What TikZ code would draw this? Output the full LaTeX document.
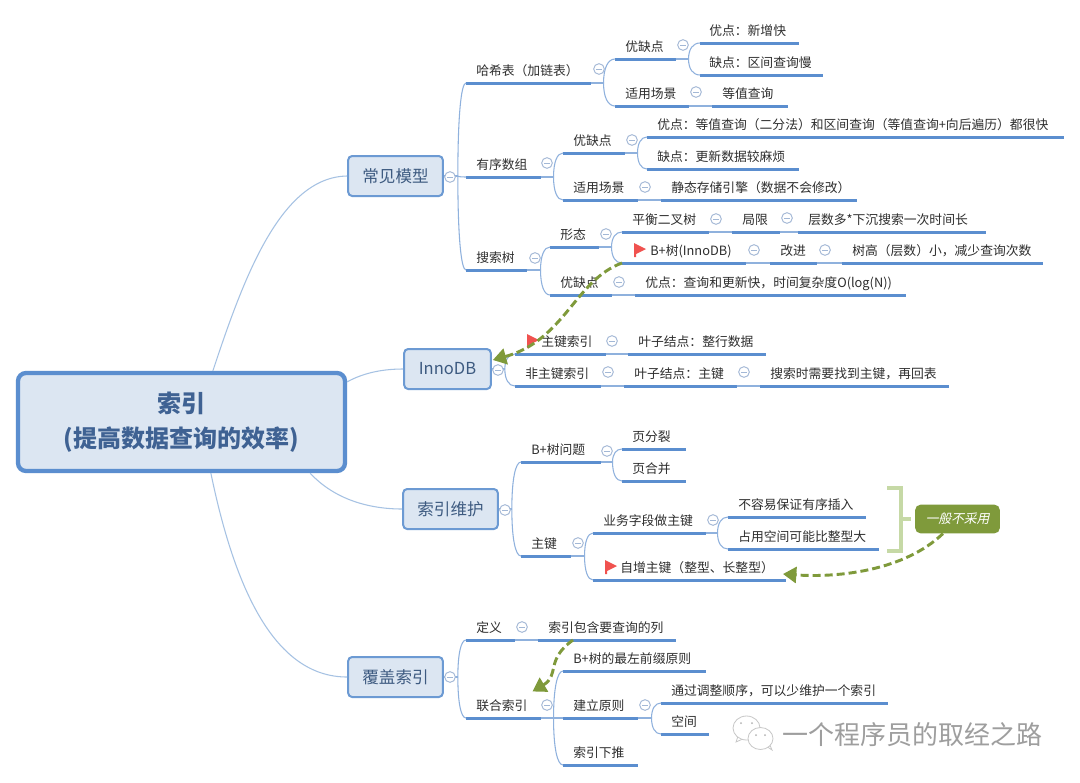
\documentclass[tikz,border=0pt]{standalone}
\usepackage{fontspec}
\setmainfont{Noto Sans CJK SC}
\newfontfamily\slantcjk[FakeSlant=0.22]{Noto Sans CJK SC}
\usetikzlibrary{calc,arrows.meta,shapes.geometric}
\definecolor{barblue}{HTML}{5B8ECF}
\definecolor{linkblue}{HTML}{8FB1DD}
\definecolor{rootlink}{HTML}{A6C2E3}
\definecolor{boxfill}{HTML}{DCE6F2}
\definecolor{boxline}{HTML}{6C9AD3}
\definecolor{colc}{HTML}{A3B8D6}
\definecolor{relgreen}{HTML}{7F9A3B}
\definecolor{brk}{HTML}{C6D9A6}
\definecolor{flagred}{HTML}{F0524F}
\definecolor{textc}{HTML}{2E2E2E}
\definecolor{headc}{HTML}{3D5A80}
\definecolor{rootc}{HTML}{3F6293}
\tikzset{
  topicnode/.style={anchor=south west,inner sep=0pt,minimum height=19.5pt,text height=11pt,text depth=2.2pt,text=textc,font=\fontsize{9.6pt}{12pt}\selectfont},
  bar/.style={draw=barblue,line width=2.25pt},
  link/.style={draw=linkblue,line width=.8pt},
  rootlinkstyle/.style={draw=rootlink,line width=.8pt},
  mainbox/.style={draw=boxline,fill=boxfill,line width=1.5pt,rounded corners=3pt,inner sep=0pt,text=headc,font=\fontsize{12.4pt}{15pt}\selectfont},
  rootbox/.style={draw=barblue,fill=boxfill,line width=3.2pt,rounded corners=6pt,inner sep=0pt,align=center,text=rootc,font=\fontsize{18pt}{26.5pt}\selectfont\bfseries},
  colnode/.style={circle,draw=colc,fill=white,line width=.7pt,minimum size=8pt,inner sep=0pt,
    path picture={\draw[colc,line width=.6pt] ([xshift=-2.2pt]path picture bounding box.center) -- ([xshift=2.2pt]path picture bounding box.center);}},
  rel/.style={draw=relgreen,line width=2.2pt,dash pattern=on 6pt off 3pt,-{Triangle[length=10pt,width=12pt,fill=relgreen]}},
  noteb/.style={fill=relgreen,rounded corners=4pt,inner sep=0pt,text=white,font=\fontsize{9.6pt}{12pt}\selectfont\slantcjk},
  brackets/.style={draw=brk,line width=3pt},
  bubble/.style={draw=black!22,fill=white,line width=.6pt},
}
% name, x1, x2, y, text; optional = left padding
\newcommand\topic[6][10]{%
  \node[topicnode] (#2) at (#3,#5) {\makebox[\dimexpr 0.75pt*(#4-#3)\relax][l]{\hspace*{\dimexpr 0.75pt*#1\relax}#6}};
  \draw[bar] (#2.south west) -- (#2.south east);}
\newcommand\fork[3]{%
  \draw[link] (#1) -- ++(#2,0) coordinate (j);
  \foreach \kid in {#3} \draw[link] (j) .. controls ($(j)!0.62!(j |- \kid.south west)$) and ($(\kid.south west)!0.62!(j |- \kid.south west)$) .. (\kid.south west);}
\newcommand\joinlink[2]{\draw[link] (#1.south east) -- (#2.south west);}
\newcommand\flagmark[1]{%
  \fill[flagred] ($(#1.south west)+(12,-20)$) -- ++(12,6) -- ++(-10,5) -- ++(0,3) -- ++(-2,0) -- cycle;}
\begin{document}
\begin{tikzpicture}[x=0.75pt,y=-0.75pt]
\useasboundingbox (0,0) rectangle (1080,782);
\fill[white] (0,0) rectangle (1080,782);
% root and main boxes
\node[rootbox,minimum width=245.25pt,minimum height=73.5pt] (root) at (181.5,422) {索引\\(提高数据查询的效率)};
\node[mainbox,minimum width=71pt,minimum height=30pt] (b1) at (395.5,176) {常见模型};
\node[mainbox,minimum width=65pt,minimum height=30pt] (b2) at (447.5,369) {InnoDB};
\node[mainbox,minimum width=71pt,minimum height=30pt] (b3) at (450.5,509) {索引维护};
\node[mainbox,minimum width=71pt,minimum height=30pt] (b4) at (395.5,677) {覆盖索引};
% root connectors
\draw[rootlinkstyle] ($(root.north west)+(197,0)$) .. controls (243,280) and (280,177) .. (b1.west);
\draw[rootlinkstyle] ($(root.north east)+(0,11)$) .. controls (365,372) and (385,369) .. (b2.west);
\draw[rootlinkstyle] ($(root.south east)+(-37,0)$) .. controls (335,500) and (370,509) .. (b3.west);
\draw[rootlinkstyle] ($(root.south west)+(195,0)$) .. controls (235,590) and (275,677) .. (b4.west);
% branch 1
\topic{h}{466}{590}{83}{哈希表（加链表）}
\topic{ha}{615}{675}{59}{优缺点}
\topic[9]{haa}{700}{798}{43}{优点：新增快}
\topic[9]{hab}{700}{822}{75}{缺点：区间查询慢}
\topic{hb}{615}{688}{106}{适用场景}
\topic{hba}{712}{787}{106}{等值查询}
\topic{o}{466}{540}{177}{有序数组}
\topic{oa}{563}{624}{153}{优缺点}
\topic{oaa}{647}{1063}{137}{优点：等值查询（二分法）和区间查询（等值查询+向后遍历）都很快}
\topic{oab}{647}{798}{169}{缺点：更新数据较麻烦}
\topic{ob}{563}{637}{200}{适用场景}
\topic{oba}{661}{856}{200}{静态存储引擎（数据不会修改）}
\topic{s}{466}{526}{270}{搜索树}
\topic{sa}{550}{598}{247}{形态}
\topic{saa}{622}{708}{232}{平衡二叉树}
\topic{saaa}{732}{779}{232}{局限}
\topic{saab}{798}{985}{232}{层数多*下沉搜索一次时间长}
\topic[28]{sab}{622}{745}{263}{B+树(InnoDB)}
\topic{saba}{770}{816}{263}{改进}
\topic{sabb}{842}{1042}{263}{树高（层数）小，减少查询次数}
\topic{sb}{550}{611}{295}{优缺点}
\topic{sba}{635}{905}{295}{优点：查询和更新快，时间复杂度O(log(N))}
\flagmark{sab}
\fork{b1.east}{14}{h,o,s}
\fork{h.south east}{13}{ha,hb}
\fork{ha.south east}{13}{haa,hab}
\fork{o.south east}{13}{oa,ob}
\fork{oa.south east}{13}{oaa,oab}
\fork{s.south east}{14}{sa,sb}
\fork{sa.south east}{13}{saa,sab}
\joinlink{hb}{hba}
\joinlink{ob}{oba}
\joinlink{saa}{saaa}
\joinlink{saaa}{saab}
\joinlink{sab}{saba}
\joinlink{saba}{sabb}
\joinlink{sb}{sba}
% branch 2
\topic[26]{pk}{515}{605}{354}{主键索引}
\topic{pka}{628}{765}{354}{叶子结点：整行数据}
\topic{npk}{515}{600}{386}{非主键索引}
\topic{npka}{624}{736}{386}{叶子结点：主键}
\topic{npkb}{760}{948}{386}{搜索时需要找到主键，再回表}
\flagmark{pk}
\fork{b2.east}{13}{pk,npk}
\joinlink{pk}{pka}
\joinlink{npk}{npka}
\joinlink{npka}{npkb}
% branch 3
\topic{bq}{521}{600}{462}{B+树问题}
\topic{bqa}{622}{685}{449}{页分裂}
\topic{bqb}{622}{685}{481}{页合并}
\topic{mk}{521}{570}{556}{主键}
\topic{mka}{593}{705}{533}{业务字段做主键}
\topic{mkaa}{728}{865}{517}{不容易保证有序插入}
\topic{mkab}{728}{878}{549}{占用空间可能比整型大}
\topic[27]{mkb}{593}{785}{580}{自增主键（整型、长整型）}
\flagmark{mkb}
\fork{b3.east}{13}{bq,mk}
\fork{bq.south east}{12}{bqa,bqb}
\fork{mk.south east}{14}{mka,mkb}
\fork{mka.south east}{12}{mkaa,mkab}
% note with bracket
\node[noteb,minimum width=63.5pt,minimum height=21.5pt] (note) at (957.5,519) {一般不采用};
\draw[brackets] (887,488) -- (901,488) -- (901,551) -- (887,551);
\draw[brackets] ($(note.west)+(-4,0)$) -- (901,519);
% branch 4
\topic{d}{466}{514}{640}{定义}
\topic{da}{538}{675}{640}{索引包含要查询的列}
\topic{lh}{466}{540}{718}{联合索引}
\topic{la}{563}{705}{671}{B+树的最左前缀原则}
\topic{lb}{563}{637}{718}{建立原则}
\topic{lba}{661}{887}{703}{通过调整顺序，可以少维护一个索引}
\topic{lbb}{661}{708}{734}{空间}
\topic{lc}{563}{637}{765}{索引下推}
\fork{b4.east}{14}{d,lh}
\fork{lh.south east}{13}{la,lb,lc}
\fork{lb.south east}{14}{lba,lbb}
\joinlink{d}{da}
% collapse marks
\foreach \px/\py [count=\i] in {450/177,599/69,683/45,696/92,547/163,632/140,645/187,535/258,606/234,716/219,787/218,754/250,825/250,619/282,498/370,612/341,608/372,744/372,505/510,607/451,578/543,713/520,450/677,522/627,547/705,645/705}
  \node[colnode] (col\i) at (\px,\py) {};
% relation arrows
\draw[rel] (sab.south west) .. controls (575,280) and (565,340) .. ($(b2.east)+(1,-9)$);
\draw[rel] (note.south west) ++(28,0) .. controls (905,570) and (840,578) .. (783,574);
\draw[rel] ($(da.south west)+(35,0)$) .. controls (545,660) and (560,675) .. ($(lh.north east)+(-8,0)$);
% watermark
\draw[bubble] (738,736) -- (736,742) -- (745,738);
\draw[bubble] (746.5,728) ellipse (13.5 and 12);
\draw[bubble] (766,746) -- (772,750) -- (769,743);
\draw[bubble] (760.5,738.5) ellipse (12.5 and 11);
\fill[black!30] (741,723) circle (1) (752,723) circle (1) (756,735) circle (1) (765,735) circle (1);
\node[inner sep=0pt,text=black!38,font=\fontsize{19.5pt}{24pt}\selectfont] (wm) at (912.5,735) {一个程序员的取经之路};
\end{tikzpicture}
\end{document}
